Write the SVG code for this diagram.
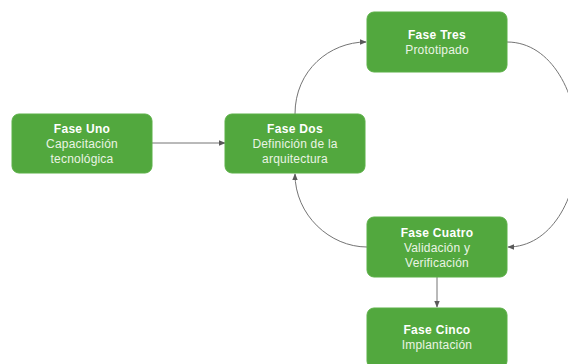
<svg xmlns="http://www.w3.org/2000/svg" width="568" height="364" viewBox="0 0 568 364">
  <style>
    .node rect { fill: #52a83e; stroke: #5bb046; stroke-width: 1; }
    .node text { font-family: "Liberation Sans", Arial, sans-serif; font-size: 12px; fill: #ffffff; text-anchor: middle; }
    .node .title { font-weight: bold; letter-spacing: 0.3px; }
    .node .sub { fill: #eaf4e4; letter-spacing: 0.2px; }
    .edges path { fill: none; stroke: #747474; stroke-width: 1; }
  </style>
  <defs>
    <marker id="arrow" viewBox="0 0 10 10" refX="9" refY="5" markerWidth="7" markerHeight="7" markerUnits="userSpaceOnUse" orient="auto">
      <path d="M0,1 L10,5 L0,9 z" fill="#5a5a5a"/>
    </marker>
  </defs>
  <rect width="568" height="364" fill="#ffffff"/>

  <g class="edges">
    <path d="M152,143 L225,143" marker-end="url(#arrow)"/>
    <path d="M295,114 C295,70 330,42 366,42" marker-end="url(#arrow)"/>
    <path d="M507,42 C552,42 578,95 578,145 C578,200 550,247 508,247" marker-end="url(#arrow)"/>
    <path d="M367,247 C330,247 295,215 295,174" marker-end="url(#arrow)"/>
    <path d="M437,277 L437,307" marker-end="url(#arrow)"/>
  </g>

  <g id="fase-uno" class="node">
    <rect x="12" y="114" width="140" height="59" rx="7"/>
    <text x="82" y="133" class="title">Fase Uno</text>
    <text x="82" y="148" class="sub">Capacitación</text>
    <text x="82" y="163" class="sub">tecnológica</text>
  </g>
  <g id="fase-dos" class="node">
    <rect x="225" y="114" width="140" height="59" rx="7"/>
    <text x="295" y="133" class="title">Fase Dos</text>
    <text x="295" y="148" class="sub">Definición de la</text>
    <text x="295" y="163" class="sub">arquitectura</text>
  </g>
  <g id="fase-tres" class="node">
    <rect x="367" y="12" width="140" height="60" rx="7"/>
    <text x="437" y="39" class="title">Fase Tres</text>
    <text x="437" y="54" class="sub">Prototipado</text>
  </g>
  <g id="fase-cuatro" class="node">
    <rect x="367" y="217" width="140" height="60" rx="7"/>
    <text x="437" y="237" class="title">Fase Cuatro</text>
    <text x="437" y="252" class="sub">Validación y</text>
    <text x="437" y="267" class="sub">Verificación</text>
  </g>
  <g id="fase-cinco" class="node">
    <rect x="367" y="308" width="140" height="60" rx="7"/>
    <text x="437" y="334" class="title">Fase Cinco</text>
    <text x="437" y="349" class="sub">Implantación</text>
  </g>
</svg>
